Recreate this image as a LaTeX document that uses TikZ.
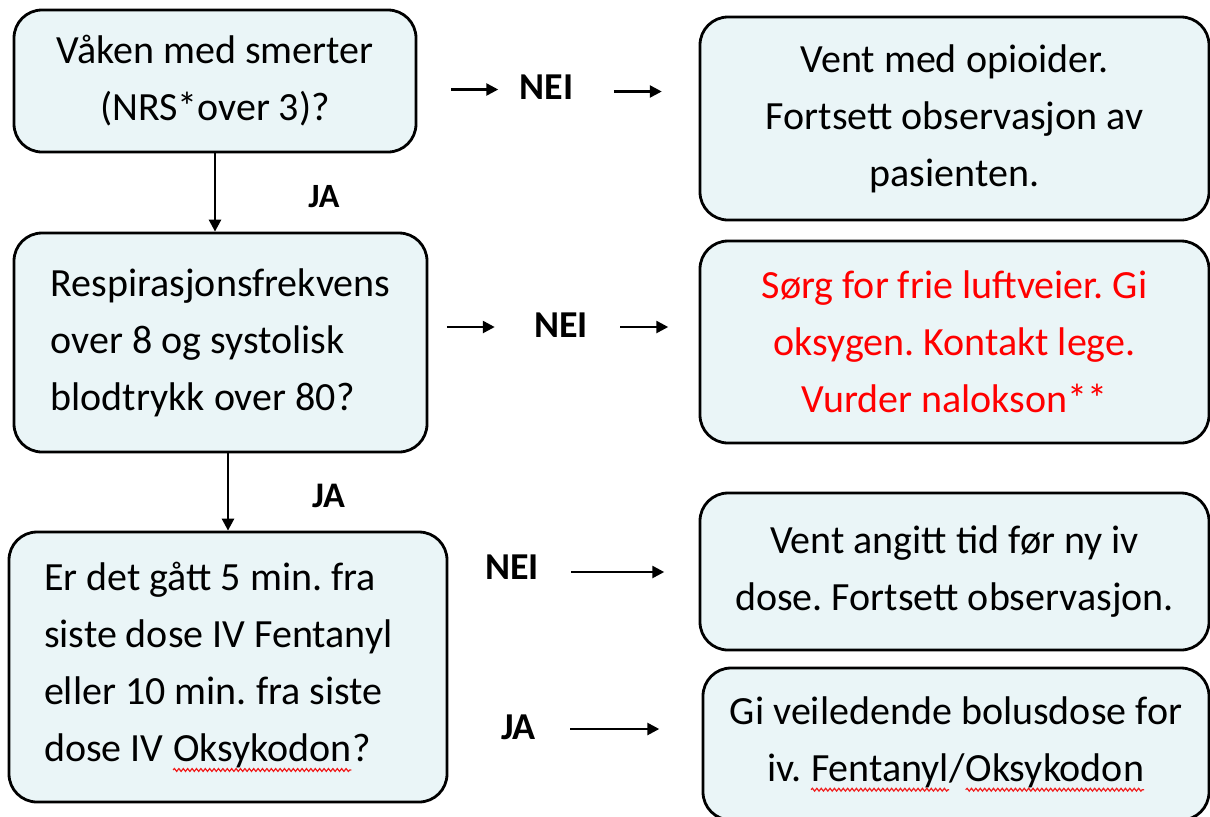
\documentclass[tikz,border=0pt]{standalone}
\usepackage{fontspec}
\setmainfont{Carlito}
\usetikzlibrary{arrows.meta,
                decorations.pathmorphing}
\frenchspacing

\definecolor{boksfyll}{RGB}{234,245,247}
\definecolor{feilrod}{RGB}{240,30,30}

% raud bylgjelinje under ord (stavekontroll)
\newcommand{\stavefeil}[1]{\tikz[baseline=(ord.base)]{%
    \node[inner sep=0pt, outer sep=0pt, minimum width=0pt, minimum height=0pt,
          text width={}, align=none] (ord) {#1};
    \draw[feilrod, line width=0.6pt, rounded corners=0pt, decorate,
          decoration={snake, amplitude=0.7pt, segment length=2.2pt}]
        ([yshift=-4.3pt]ord.base west) -- ([yshift=-4.3pt]ord.base east);}}

\begin{document}
\begin{tikzpicture}%
    [x = 0.5pt, y = -0.5pt,
     box/.style = {draw, line width = 1.4pt, fill = boksfyll,
                   rounded corners = 14pt, inner sep = 0pt,
                   font = \fontsize{20}{28.5}\selectfont},
     svar/.style = {inner sep = 0pt, font = \fontsize{19}{22}\selectfont\bfseries},
     flow/.style = {-{Triangle[length = 6pt, width = 6pt]}, line width = 1.3pt}]
    \useasboundingbox (0,0) rectangle (1210,816);

    % venstre kolonne
    \node[box, minimum width = 201pt, minimum height = 71pt, align = center]
        (waken) at (215,81) {Våken med smerter\\(NRS*over 3)?};
    \node[box, minimum width = 206.5pt, minimum height = 109.5pt, align = flush left]
        (resp) at (220.5,342.5) {Respirasjonsfrekvens\\over 8 og systolisk\\blodtrykk over 80?};
    \node[box, minimum width = 219pt, minimum height = 135pt, text width = 184pt, align = flush left]
        (tid) at (228,667) {Er det gått 5 min. fra\\siste dose IV Fentanyl\\eller 10 min. fra siste\\dose IV \stavefeil{Oksykodon}?};

    % høgre kolonne
    \node[box, minimum width = 254.5pt, minimum height = 101.5pt, align = center]
        (vent) at (954.5,118.5) {Vent med opioider.\\Fortsett observasjon av\\pasienten.};
    \node[box, minimum width = 254.5pt, minimum height = 101pt, align = center, text = red]
        (sorg) at (954.5,342) {Sørg for frie luftveier. Gi\\oksygen. Kontakt lege.\\Vurder nalokson**};
    \node[box, minimum width = 254.5pt, minimum height = 78.5pt, align = center]
        (ventdose) at (954.5,571.5) {Vent angitt tid før ny iv\\dose. Fortsett observasjon.};
    \node[box, minimum width = 253pt, minimum height = 76pt, align = center]
        (bolus) at (956,744) {Gi veiledende bolusdose for\\iv. \stavefeil{Fentanyl}/\stavefeil{Oksykodon}};

    % JA nedover
    \draw [flow] (waken.south) -- (waken.south |- resp.north);
    \node[svar, font = \fontsize{17}{20}\selectfont\bfseries] (ja1) at (324,196.5) {JA};
    \draw [flow] (tid.north |- resp.south) -- (tid.north);
    \node[svar, font = \fontsize{18}{20}\selectfont\bfseries] (ja2) at (328.5,496) {JA};

    % NEI / JA til høgre
    \node[svar] (nei1) at (546.5,87.5) {NEI};
    \draw [flow] (nei1.west) ++(-68,2) -- ++(47,0);
    \draw [flow] (nei1.east) ++(40,4) -- ++(48,0);

    \node[svar] (nei2) at (561,325.5) {NEI};
    \draw [flow] (nei2.west) ++(-87,1.5) -- ++(48,0);
    \draw [flow] (nei2.east) ++(32,1.5) -- ++(48,0);

    \node[svar] (nei3) at (512,567.5) {NEI};
    \draw [flow] (nei3.east) ++(32,4.5) -- ++(93,0);

    \node[svar] (ja3) at (518.5,727.5) {JA};
    \draw [flow] (ja3.east) ++(34,1.5) -- ++(89,0);
\end{tikzpicture}
\end{document}
